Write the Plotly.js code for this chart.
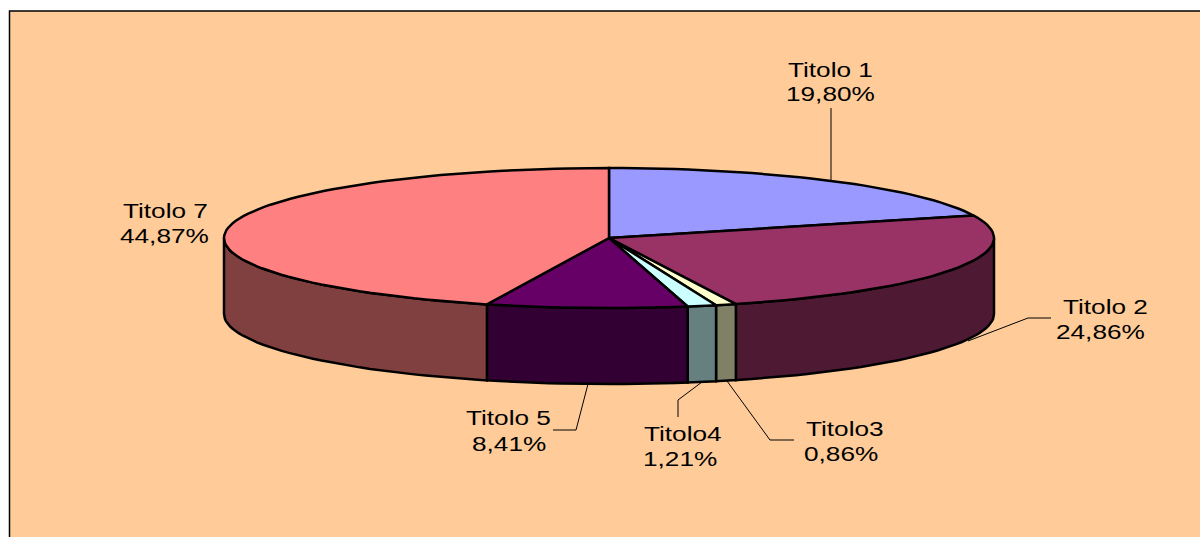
<!DOCTYPE html>
<html>
<head>
<meta charset="utf-8">
<script src="https://cdn.plot.ly/plotly-3.0.1.min.js"></script>
<style>
html,body{margin:0;padding:0;background:#fff;overflow:hidden}
#chart{width:1200px;height:537px}
.annotation-text{transform:scaleX(1.31);transform-box:fill-box;transform-origin:center}
</style>
</head>
<body>
<div id="chart"></div>
<script>
// data
var categories = ["Titolo 1", "Titolo 2", "Titolo3", "Titolo4", "Titolo 5", "Titolo 7"];
var values = [19.80, 24.86, 0.86, 1.21, 8.41, 44.87];
var topColors = ["#9999FF", "#993366", "#FFFFCC", "#CCFFFF", "#660066", "#FF8080"];
var sideColors = ["#4D4D80", "#4D1933", "#808066", "#668080", "#330033", "#804040"];

// label placement (name line, percent line): centre x, centre y
var nameX = [830, 1105.5, 845, 683, 508, 165];
var nameY = [70, 307, 429, 434, 418, 211];
var pctX = [830.5, 1100, 841, 680, 508.5, 164];
var pctY = [94, 332, 454, 459, 444, 236];

// leader lines
var leaders = [
  "M831,108 L831,181",
  "M1051,318 L1028,318 L968,341",
  "M794,440 L770,440 L727,381",
  "M678,417 L678,400 L702,382",
  "M553,430 L576,430 L588,384"
];

// pie geometry
var cx = 609, cy = 238, rx = 385, ry = 70, depth = 76;

function px(a){ return cx + rx * Math.sin(a * Math.PI / 180); }
function py(a, d){ return cy - ry * Math.cos(a * Math.PI / 180) + (d || 0); }
function arc(a0, a1, d){
  var n = Math.max(2, Math.ceil(Math.abs(a1 - a0) / 2)), xs = [], ys = [];
  for (var i = 0; i <= n; i++){
    var a = a0 + (a1 - a0) * i / n;
    xs.push(px(a)); ys.push(py(a, d));
  }
  return {x: xs, y: ys};
}

var total = values.reduce(function(s, v){ return s + v; }, 0);
var sideTraces = [], topTraces = [], cum = 0;
values.forEach(function(v, i){
  var a0 = cum / total * 360, a1 = (cum + v) / total * 360;
  cum += v;
  // visible front wall
  var s0 = Math.max(a0, 90), s1 = Math.min(a1, 270);
  if (s1 > s0){
    var up = arc(s0, s1, 0), dn = arc(s1, s0, depth);
    sideTraces.push({
      type: "scatter", mode: "lines", fill: "toself", fillcolor: sideColors[i],
      x: up.x.concat(dn.x, [up.x[0]]), y: up.y.concat(dn.y, [up.y[0]]),
      line: {color: "#000", width: 2.5}, hoverinfo: "skip", showlegend: false
    });
  }
  var t = arc(a0, a1, 0);
  topTraces.push({
    type: "scatter", mode: "lines", fill: "toself", fillcolor: topColors[i],
    x: [cx].concat(t.x, [cx]), y: [cy].concat(t.y, [cy]),
    line: {color: "#000", width: 2.5}, hoverinfo: "skip", showlegend: false
  });
});

var annotations = [];
categories.forEach(function(c, i){
  annotations.push({x: nameX[i], y: nameY[i], text: c, showarrow: false, xanchor: "center", yanchor: "middle",
    font: {family: "Liberation Sans, Arial, sans-serif", size: 20, color: "#000"}});
  annotations.push({x: pctX[i], y: pctY[i], text: values[i].toFixed(2).replace(".", ",") + "%", showarrow: false, xanchor: "center", yanchor: "middle",
    font: {family: "Liberation Sans, Arial, sans-serif", size: 20, color: "#000"}});
});

var shapes = [{
  type: "rect", layer: "below", xref: "x", yref: "y", x0: 9.5, x1: 1210, y0: 11, y1: 560,
  fillcolor: "#FFCC99", line: {color: "#000", width: 1.5}
}].concat(leaders.map(function(p){
  return {type: "path", path: p, xref: "x", yref: "y", line: {color: "#000", width: 1}};
}));

Plotly.newPlot("chart", sideTraces.concat(topTraces), {
  width: 1200, height: 537,
  margin: {l: 0, r: 0, t: 0, b: 0},
  paper_bgcolor: "#fff", plot_bgcolor: "#fff",
  xaxis: {range: [0, 1200], visible: false, fixedrange: true},
  yaxis: {range: [537, 0], visible: false, fixedrange: true},
  showlegend: false,
  shapes: shapes,
  annotations: annotations
}, {displayModeBar: false, staticPlot: true});
</script>
</body>
</html>
